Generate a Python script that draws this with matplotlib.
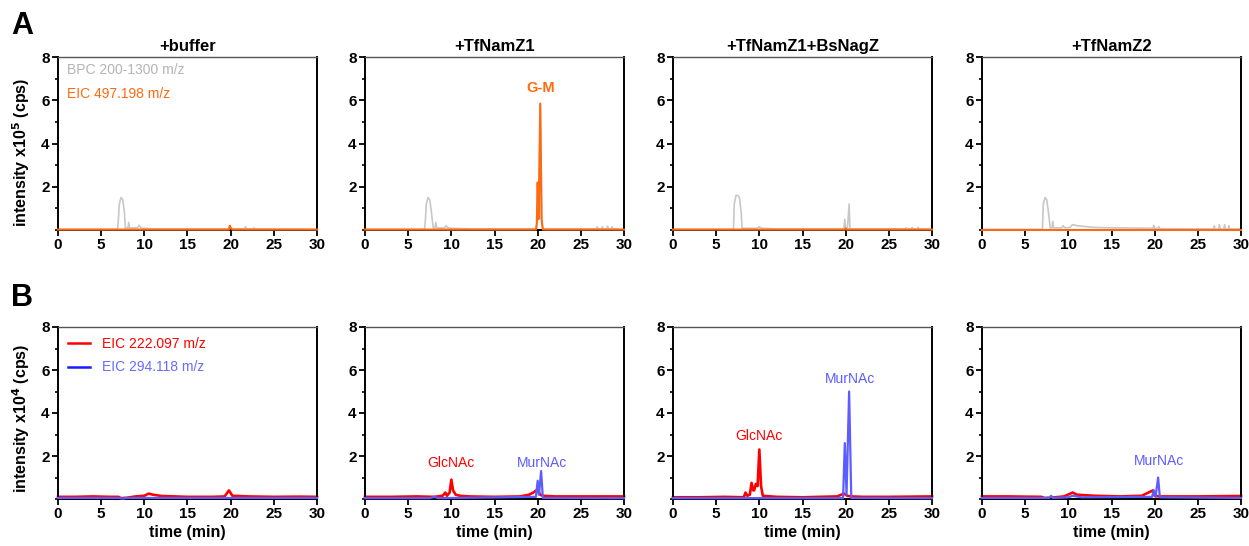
import matplotlib
matplotlib.use("Agg")
import matplotlib.pyplot as plt
from matplotlib.lines import Line2D
from matplotlib.ticker import MultipleLocator

plt.rcParams['font.family'] = ['Liberation Sans', 'DejaVu Sans']

titles = ["+buffer", "+TfNamZ1", "+TfNamZ1+BsNagZ", "+TfNamZ2"]
xticks = [0, 5, 10, 15, 20, 25, 30]
yticks = [2, 4, 6, 8]

# ---- Row A (x10^5 cps): BPC (grey) and EIC 497.198 (orange), (time, intensity) ----
bpc_t = [
    [0, 6.9, 7.0, 7.1, 7.3, 7.5, 7.7, 7.8, 8.1, 8.2, 8.3, 9.2, 9.4, 9.6, 10, 11, 20, 21.6, 21.7, 21.8, 22.6, 22.7, 22.8, 30],
    [0, 6.9, 7.0, 7.1, 7.3, 7.5, 7.7, 7.9, 8.1, 8.2, 8.3, 9.2, 9.4, 9.6, 10, 12, 19.9, 20.0, 20.1, 20.2, 20.3, 20.5, 20.6, 26.8, 26.9, 27.0, 27.4, 27.5, 27.6, 28.0, 28.1, 28.2, 28.5, 28.6, 28.7, 29.0, 30],
    [0, 7.0, 7.1, 7.3, 7.5, 7.7, 7.9, 8.0, 9.7, 10.0, 10.3, 12, 19.8, 19.9, 20.0, 20.2, 20.4, 20.5, 26.9, 27.0, 27.1, 27.6, 27.7, 27.8, 28.3, 28.4, 28.5, 29.0, 30],
    [0, 7.0, 7.1, 7.3, 7.5, 7.7, 7.9, 8.1, 8.2, 8.3, 9.2, 9.4, 9.6, 10.2, 10.5, 11, 13, 15, 19.8, 19.9, 20.0, 20.4, 20.5, 20.6, 25, 26.8, 26.9, 27.0, 27.4, 27.5, 27.6, 28.0, 28.1, 28.2, 28.5, 28.6, 28.7, 30],
]
bpc_y = [
    [0.03, 0.03, 0.5, 1.2, 1.5, 1.4, 0.8, 0.1, 0.1, 0.35, 0.1, 0.1, 0.22, 0.1, 0.08, 0.05, 0.05, 0.05, 0.15, 0.05, 0.05, 0.1, 0.05, 0.03],
    [0.03, 0.03, 0.5, 1.2, 1.5, 1.4, 0.8, 0.1, 0.1, 0.35, 0.1, 0.1, 0.2, 0.1, 0.08, 0.05, 0.05, 2.2, 1.8, 3.0, 5.8, 0.3, 0.05, 0.05, 0.15, 0.05, 0.05, 0.15, 0.05, 0.05, 0.18, 0.05, 0.05, 0.15, 0.05, 0.05, 0.03],
    [0.03, 0.03, 1.2, 1.6, 1.6, 1.5, 0.8, 0.08, 0.08, 0.15, 0.08, 0.05, 0.05, 0.5, 0.05, 0.05, 1.2, 0.05, 0.05, 0.1, 0.05, 0.05, 0.12, 0.05, 0.05, 0.12, 0.05, 0.05, 0.03],
    [0.03, 0.03, 1.2, 1.5, 1.4, 0.8, 0.1, 0.1, 0.4, 0.1, 0.1, 0.2, 0.1, 0.12, 0.25, 0.2, 0.12, 0.1, 0.08, 0.22, 0.08, 0.08, 0.15, 0.06, 0.05, 0.05, 0.2, 0.05, 0.05, 0.25, 0.05, 0.05, 0.25, 0.05, 0.05, 0.2, 0.05, 0.05],
]
eic497_t = [
    [0, 19.8, 19.9, 20.0, 20.2, 30],
    [0, 19.8, 19.9, 20.0, 20.1, 20.15, 20.3, 20.45, 20.6, 30],
    [0, 19.9, 20.0, 20.1, 30],
    [0, 30],
]
eic497_y = [
    [0.02, 0.02, 0.2, 0.1, 0.02, 0.02],
    [0.02, 0.02, 0.3, 2.2, 0.5, 1.5, 5.85, 0.5, 0.02, 0.02],
    [0.02, 0.02, 0.08, 0.02, 0.02],
    [0.02, 0.02],
]

# ---- Row B (x10^4 cps): EIC 222.097 (red) and EIC 294.118 (blue) ----
eic222_t = [
    [0, 2, 4, 6, 7.0, 7.3, 8.0, 9, 10.0, 10.5, 11.0, 12, 15, 18, 19.3, 19.8, 20.2, 22, 25, 28, 30],
    [0, 3, 6, 8, 9.0, 9.3, 9.5, 9.8, 10.0, 10.2, 10.5, 11.0, 12, 15, 18, 19.0, 19.5, 20.0, 20.3, 20.6, 22, 25, 30],
    [0, 3, 6, 8.2, 8.4, 8.6, 8.9, 9.1, 9.3, 9.4, 9.6, 9.8, 10.0, 10.2, 10.4, 12, 15, 19.0, 19.8, 20.2, 20.6, 22, 25, 30],
    [0, 3, 6.9, 7.2, 8.0, 9.5, 10.5, 11.0, 13, 16, 18.5, 19.8, 20.0, 20.5, 22, 25, 30],
]
eic222_y = [
    [0.1, 0.1, 0.12, 0.1, 0.1, 0.04, 0.06, 0.12, 0.15, 0.25, 0.2, 0.14, 0.1, 0.1, 0.12, 0.4, 0.15, 0.12, 0.1, 0.11, 0.1],
    [0.1, 0.1, 0.12, 0.1, 0.15, 0.3, 0.15, 0.3, 0.9, 0.4, 0.2, 0.15, 0.12, 0.1, 0.12, 0.2, 0.3, 0.45, 0.2, 0.15, 0.12, 0.12, 0.12],
    [0.08, 0.08, 0.1, 0.08, 0.3, 0.15, 0.2, 0.75, 0.4, 0.4, 0.7, 0.6, 2.3, 0.6, 0.15, 0.1, 0.08, 0.12, 0.25, 0.15, 0.12, 0.1, 0.1, 0.12],
    [0.12, 0.12, 0.1, 0.05, 0.06, 0.12, 0.3, 0.2, 0.15, 0.12, 0.15, 0.4, 0.15, 0.12, 0.12, 0.12, 0.14],
]
eic294_t = [
    [0, 7.0, 7.5, 8.0, 30],
    [0, 7.5, 8.0, 8.5, 19.8, 20.0, 20.15, 20.4, 20.6, 30],
    [0, 19.7, 19.9, 20.1, 20.4, 20.65, 30],
    [0, 7.8, 8.0, 8.2, 10.0, 10.5, 11.5, 19.7, 19.9, 20.1, 20.4, 20.6, 30],
]
eic294_y = [
    [0.05, 0.05, 0.02, 0.05, 0.05],
    [0.04, 0.04, 0.1, 0.04, 0.1, 0.85, 0.2, 1.3, 0.05, 0.04],
    [0.04, 0.04, 2.6, 0.2, 5.0, 0.05, 0.04],
    [0.05, 0.05, 0.15, 0.05, 0.08, 0.15, 0.08, 0.1, 0.4, 0.1, 1.0, 0.08, 0.05],
]

GREY = "#c8c8c8"
ORANGE = "#ff6a10"
RED = "#ff0000"
BLUE = "#5c5cff"

W, H = 1249, 546
fig = plt.figure(figsize=(W / 100, H / 100), dpi=100)
lefts = [58, 365, 673, 982]
wpx = 259

def make_ax(left, top, bottom):
    return fig.add_axes([left / W, 1 - bottom / H, wpx / W, (bottom - top) / H])

def style(ax):
    ax.set_xlim(0, 30)
    ax.set_ylim(0, 8)
    ax.set_xticks(xticks)
    ax.set_yticks(yticks)
    ax.yaxis.set_minor_locator(MultipleLocator(1))
    ax.tick_params(axis='both', which='major', labelsize=11, width=1.3, length=4, direction='out', pad=2)
    ax.tick_params(axis='y', which='minor', width=1.2, length=2.5)
    for lab in ax.get_xticklabels() + ax.get_yticklabels():
        lab.set_fontweight('bold')
    for s in ax.spines.values():
        s.set_linewidth(1.4)
        s.set_color('black')
    ax.spines['top'].set_color('#555555')
    ax.spines['top'].set_linewidth(1.0)

axA = []
for i in range(4):
    ax = make_ax(lefts[i], 57, 230)
    ax.plot(bpc_t[i], bpc_y[i], color=GREY, lw=1.2, clip_on=False, zorder=2)
    ax.plot(eic497_t[i], eic497_y[i], color=ORANGE, lw=1.5, clip_on=False, zorder=3)
    style(ax)
    ax.set_title(titles[i], fontsize=12, fontweight='bold', pad=4)
    axA.append(ax)

axA[0].set_ylabel("intensity x10$^{\\mathbf{5}}$ (cps)", fontsize=11.5, fontweight='bold')
axA[0].yaxis.set_label_coords(-0.1, 0.45)
axA[0].text(0.035, 0.925, "BPC 200-1300 m/z", transform=axA[0].transAxes, color="#b4b4b4", fontsize=10, va='center')
axA[0].text(0.035, 0.785, "EIC 497.198 m/z", transform=axA[0].transAxes, color=ORANGE, fontsize=10, va='center')
axA[1].text(20.3, 6.55, "G-M", color=ORANGE, fontsize=10.5, fontweight='bold', ha='center', va='center')

axB = []
for i in range(4):
    ax = make_ax(lefts[i], 327, 499)
    ax.plot(eic222_t[i], eic222_y[i], color=RED, lw=1.9, clip_on=False, zorder=2)
    ax.plot(eic294_t[i], eic294_y[i], color=BLUE, lw=1.6, clip_on=False, zorder=3)
    style(ax)
    ax.set_xlabel("time (min)", fontsize=11.5, fontweight='bold', labelpad=3)
    axB.append(ax)

axB[0].set_ylabel("intensity x10$^{\\mathbf{4}}$ (cps)", fontsize=11.5, fontweight='bold')
axB[0].yaxis.set_label_coords(-0.1, 0.47)
handles = [Line2D([], [], color=RED, lw=1.8), Line2D([], [], color="#1a1aff", lw=1.8)]
axB[0].legend(handles, ["EIC 222.097 m/z", "EIC 294.118 m/z"], loc='upper left', frameon=False,
              labelcolor=[RED, "#6a6aff"], fontsize=10, handlelength=1.6, handletextpad=0.9,
              borderaxespad=0.3, labelspacing=0.7, bbox_to_anchor=(0.0, 1.0))

axB[1].text(10.0, 1.67, "GlcNAc", color=RED, fontsize=10, ha='center', va='center')
axB[1].text(20.5, 1.67, "MurNAc", color=BLUE, fontsize=10, ha='center', va='center')
axB[2].text(10.0, 2.95, "GlcNAc", color=RED, fontsize=10, ha='center', va='center')
axB[2].text(20.5, 5.6, "MurNAc", color=BLUE, fontsize=10, ha='center', va='center')
axB[3].text(20.5, 1.75, "MurNAc", color=BLUE, fontsize=10, ha='center', va='center')

fig.text(11 / W, 1 - 26 / H, "A", fontsize=22, fontweight='bold', va='center', ha='left')
fig.text(11 / W, 1 - 298 / H, "B", fontsize=22, fontweight='bold', va='center', ha='left')

fig.savefig("out.png", dpi=100)
